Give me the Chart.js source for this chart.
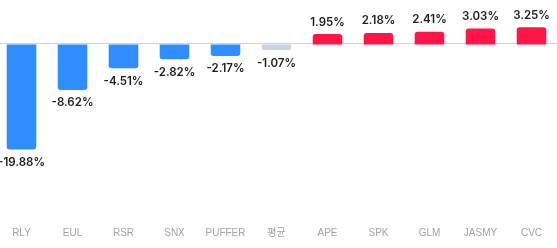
<!DOCTYPE html>
<html>
<head>
<meta charset="utf-8">
<script src="https://cdn.jsdelivr.net/npm/chart.js@4.4.0/dist/chart.umd.min.js"></script>
<style>
  html, body { margin: 0; padding: 0; background: #fff; overflow: hidden; width: 557px; height: 248px; }
  #rateChart { position: absolute; left: -4px; top: 0; width: 561px; height: 248px; }
</style>
</head>
<body>
<canvas id="rateChart" width="561" height="248"></canvas>
<script>
// 종목별 등락률
const labels = ["RLY", "EUL", "RSR", "SNX", "PUFFER", "평균", "APE", "SPK", "GLM", "JASMY", "CVC"];
const changes = [-19.88, -8.62, -4.51, -2.82, -2.17, -1.07, 1.95, 2.18, 2.41, 3.03, 3.25];
const avgLabel = "평균";

const BLUE = "#2e8dff";
const RED = "#ff1649";
const AVG = "#c2d5e9";

const colors = labels.map((l, i) => l === avgLabel ? AVG : (changes[i] < 0 ? BLUE : RED));

// 0 기준선
const zeroLine = {
  id: "zeroLine",
  beforeDatasetsDraw(chart) {
    const { ctx, scales } = chart;
    const y = Math.round(scales.y.getPixelForValue(0)) - 0.5;
    ctx.save();
    ctx.strokeStyle = "#cfcfcf";
    ctx.lineWidth = 1;
    ctx.beginPath();
    ctx.moveTo(0, y);
    ctx.lineTo(chart.width, y);
    ctx.stroke();
    ctx.restore();
  }
};

// 값 라벨
const valueLabels = {
  id: "valueLabels",
  afterDatasetsDraw(chart) {
    const { ctx } = chart;
    const meta = chart.getDatasetMeta(0);
    ctx.save();
    ctx.font = "600 11.5px Inter, 'Noto Sans', sans-serif";
    ctx.fillStyle = "#1f1f1f";
    ctx.textAlign = "center";
    ctx.textBaseline = "middle";
    meta.data.forEach((bar, i) => {
      const v = changes[i];
      const y = v < 0 ? bar.y + 13 : bar.y - 12;
      ctx.fillText(v.toFixed(2) + "%", bar.x, y);
    });
    ctx.restore();
  }
};

new Chart(document.getElementById("rateChart"), {
  type: "bar",
  data: {
    labels,
    datasets: [{
      data: changes,
      backgroundColor: colors,
      borderRadius: 3,
      borderSkipped: "start",
      barPercentage: 0.58,
      categoryPercentage: 1
    }]
  },
  options: {
    responsive: false,
    animation: false,
    devicePixelRatio: 1,
    layout: { padding: { top: 18, bottom: 9, left: 0, right: 0 } },
    plugins: { legend: { display: false }, tooltip: { enabled: false } },
    scales: {
      x: {
        grid: { display: false, drawTicks: false },
        border: { display: false },
        ticks: {
          color: "#a3a3a3",
          padding: 24,
          autoSkip: false,
          maxRotation: 0,
          minRotation: 0,
          font: { family: "'Liberation Sans', 'Noto Sans CJK KR', sans-serif", size: 10 }
        },
        afterFit(scale) {
          scale.paddingLeft = 0;
          scale.paddingRight = 0;
          scale.height = 36;
        }
      },
      y: {
        display: false,
        min: -30,
        max: 5
      }
    }
  },
  plugins: [zeroLine, valueLabels]
});
</script>
</body>
</html>
